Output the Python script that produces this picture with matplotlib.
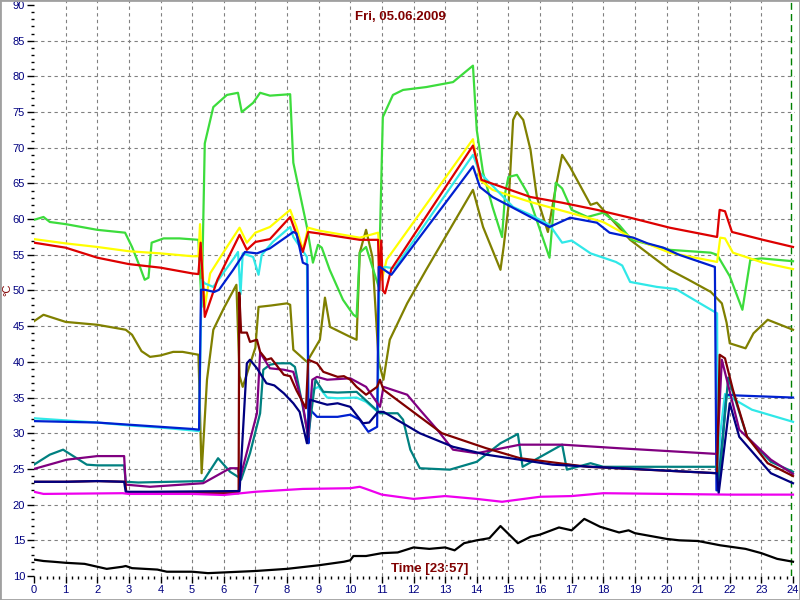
import matplotlib
matplotlib.use('Agg')
import matplotlib.pyplot as plt
from matplotlib.ticker import MultipleLocator
from matplotlib.patches import Rectangle

plt.rcParams['font.family'] = ['Liberation Sans', 'DejaVu Sans']

# outdoor temperature
black_t = [0, 0.3, 0.6, 1, 1.6, 2, 2.3, 2.8, 2.9, 3.1, 3.9, 4.2, 5, 5.5, 6, 7, 8, 9, 9.8, 10.0, 10.1,
           10.5, 11, 11.5, 12, 12.5, 13, 13.3, 13.6, 14, 14.4, 14.75, 15.3, 15.7, 16.0, 16.6, 17.0,
           17.4, 17.9, 18.5, 18.8, 19.0, 19.5, 20.0, 20.4, 21.0, 21.7, 22.5, 23, 23.5, 24]
black_v = [12.3, 12.1, 12.0, 11.85, 11.7, 11.3, 11.0, 11.3, 11.4, 11.1, 10.9, 10.6, 10.6, 10.4, 10.5,
           10.7, 11.0, 11.5, 12.0, 12.2, 12.8, 12.8, 13.2, 13.3, 14.0, 13.8, 14.0, 13.6, 14.6, 15.0,
           15.3, 17.0, 14.6, 15.5, 15.8, 16.8, 16.4, 18.0, 16.9, 16.1, 16.4, 16.0, 15.6, 15.2, 15.0,
           14.9, 14.3, 13.8, 13.2, 12.4, 12.0]

magenta_t = [0, 0.3, 2.8, 3.0, 5.0, 6.0, 7.0, 8.5, 10.0, 10.3, 10.5, 11.0, 12.0, 13.0, 14.0, 14.8,
             16.0, 17.0, 18.0, 20.0, 22.0, 24]
magenta_v = [21.8, 21.5, 21.6, 21.5, 21.5, 21.35, 21.8, 22.2, 22.3, 22.5, 22.2, 21.4, 20.8, 21.2,
             20.8, 20.4, 21.1, 21.2, 21.6, 21.5, 21.4, 21.4]

green_t = [0, 0.3, 0.5, 1, 1.5, 2, 2.88, 3.1, 3.35, 3.5, 3.62, 3.72, 4.1, 4.6, 5.2, 5.3, 5.4, 5.67,
           6.1, 6.45, 6.57, 6.93, 7.15, 7.46, 8.1, 8.2, 8.63, 8.82, 8.98, 9.1, 9.35, 9.77, 10.1, 10.2,
           10.3, 10.5, 10.9, 11.03, 11.35, 11.67, 12.4, 13.25, 13.88, 14.0, 14.2, 14.5, 14.8, 14.9,
           15.0, 15.27, 15.6, 16.0, 16.3, 16.5, 16.7, 17.0, 17.5, 18.0, 18.5, 18.9, 20.1, 21.4, 21.6,
           22.0, 22.4, 22.65, 23.0, 24]
green_v = [59.9, 60.3, 59.6, 59.3, 58.9, 58.5, 58.1, 56.1, 53.3, 51.5, 51.8, 56.7, 57.3, 57.3, 57.1,
           47.7, 70.6, 75.7, 77.4, 77.7, 75.0, 76.3, 77.7, 77.3, 77.5, 67.9, 58.9, 53.9, 56.4, 56.0,
           52.9, 48.7, 46.6, 46.3, 55.3, 56.1, 50.5, 74.3, 77.4, 78.1, 78.5, 79.2, 81.5, 72.5, 66.5,
           61.7, 57.5, 63.7, 65.9, 66.2, 63.7, 58.5, 54.6, 65.1, 64.3, 61.3, 60.3, 60.9, 59.2, 57.1,
           55.7, 55.3, 55.0, 52.0, 47.3, 54.3, 54.5, 54.1]

yellow_t = [0, 1, 2, 3, 4, 5, 5.2, 5.25, 5.3, 5.4, 5.57, 6.1, 6.5, 6.73, 7.0, 7.46, 8.1, 8.3, 8.5,
            8.67, 9.0, 10.3, 10.88, 11.0, 11.15, 13.88, 14.1, 14.5, 15.7, 18.0, 18.85, 20.1, 21.6,
            21.7, 21.85, 22.1, 23.05, 24]
yellow_v = [57.2, 56.6, 56.1, 55.5, 55.2, 54.8, 54.8, 59.3, 55.0, 47.7, 52.4, 56.1, 58.8, 56.7, 58.1,
            58.9, 61.3, 58.9, 55.7, 58.8, 58.4, 57.4, 58.1, 51.5, 54.3, 71.2, 65.5, 64.1, 62.4, 59.6,
            57.5, 55.3, 54.0, 57.4, 57.3, 55.3, 53.9, 53.0]

red_t = [0, 1, 2, 3, 4, 5, 5.2, 5.27, 5.33, 5.4, 5.8, 6.5, 6.73, 7.0, 7.46, 8.1, 8.5, 8.67, 9.0,
         10.3, 10.88, 10.92, 10.98, 11.03, 11.1, 11.3, 13.88, 14.15, 15.7, 16.7, 17.8, 18.85, 20.1,
         21.6, 21.68, 21.85, 22.07, 23.05, 24]
red_v = [56.7, 56.0, 54.6, 53.7, 53.2, 52.4, 52.3, 56.7, 52.0, 46.3, 51.5, 57.8, 55.7, 56.8, 57.2,
         60.3, 55.4, 58.2, 58.0, 57.1, 57.1, 50.0, 57.0, 50.0, 49.6, 53.0, 70.3, 65.5, 63.1, 62.3,
         61.3, 60.2, 58.8, 57.5, 61.3, 61.1, 58.2, 57.1, 56.1]

cyan_t = [0, 1, 2, 3, 4, 5, 5.22, 5.3, 5.4, 5.67, 6.35, 6.45, 6.53, 6.6, 6.93, 7.1, 7.2, 7.55, 8.1,
          8.2, 8.63, 8.68, 8.72, 8.8, 9.0, 9.27, 9.6, 10.2, 10.5, 10.87, 10.92, 11.1, 11.4, 13.88,
          14.1, 15.15, 15.7, 16.3, 16.7, 17.0, 17.6, 18.4, 18.6, 18.85, 19.7, 20.3, 21.06, 21.6,
          21.62, 21.7, 21.85, 22.0, 22.7, 24]
cyan_v = [32.1, 31.8, 31.5, 31.1, 30.8, 30.4, 30.3, 51.5, 51.0, 50.5, 54.7, 55.4, 49.5, 55.2, 54.7,
          52.2, 55.0, 56.8, 58.9, 57.5, 54.7, 29.5, 33.0, 36.1, 36.5, 35.0, 34.9, 35.0, 34.4, 33.0,
          53.0, 53.3, 53.1, 69.0, 66.5, 61.7, 60.6, 59.2, 56.7, 57.0, 55.2, 54.0, 53.5, 51.2, 50.5,
          50.2, 48.2, 46.8, 23.5, 30.0, 35.5, 35.1, 33.3, 31.6]

blue_t = [0, 1, 2, 3, 4, 5, 5.22, 5.28, 5.4, 5.7, 5.85, 6.3, 6.67, 7.05, 7.46, 8.2, 8.3, 8.5, 8.65,
          8.68, 8.73, 8.95, 9.6, 10.0, 10.3, 10.57, 10.85, 10.9, 10.94, 11.3, 13.88, 14.1, 14.5,
          15.7, 16.3, 16.95, 17.8, 18.2, 18.95, 19.4, 19.9, 20.4, 21.53, 21.58, 21.62, 21.9, 22.2, 24]
blue_v = [31.7, 31.6, 31.5, 31.2, 30.9, 30.6, 30.5, 50.1, 50.1, 49.8, 50.1, 52.9, 55.4, 55.2, 55.9,
          58.2, 58.0, 53.9, 53.6, 28.6, 33.3, 32.3, 32.3, 32.6, 31.9, 30.2, 30.9, 53.3, 53.3, 52.2,
          67.4, 64.5, 63.1, 60.3, 58.9, 60.2, 59.5, 58.1, 57.4, 56.6, 56.0, 55.0, 53.3, 22.0, 22.0,
          35.4, 35.3, 35.0]

olive_t = [0, 0.3, 1.0, 2.0, 2.9, 3.1, 3.4, 3.67, 4.0, 4.4, 4.7, 5.2, 5.3, 5.47, 5.67, 6.0, 6.4, 6.5,
           6.6, 7.0, 7.1, 7.5, 8.0, 8.1, 8.2, 8.63, 9.04, 9.2, 9.36, 10.0, 10.2, 10.3, 10.5, 10.7,
           10.9, 11.05, 11.25, 11.8, 12.4, 13.88, 14.2, 14.75, 14.85, 15.0, 15.15, 15.27, 15.47, 15.7,
           15.9, 16.25, 16.5, 16.7, 16.95, 17.6, 17.8, 18.2, 18.85, 20.1, 20.7, 21.4, 21.75, 21.9,
           22.0, 22.5, 22.75, 23.2, 24]
olive_v = [45.7, 46.6, 45.6, 45.2, 44.5, 43.8, 41.5, 40.7, 40.9, 41.4, 41.4, 41.0, 24.4, 37.5, 44.5,
           47.5, 50.8, 38.0, 36.5, 42.0, 47.7, 47.9, 48.2, 48.0, 41.7, 40.0, 43.1, 49.0, 44.9, 43.5,
           43.1, 55.3, 58.5, 54.7, 40.0, 37.5, 43.1, 48.2, 52.9, 64.1, 58.9, 52.9, 56.1, 61.7, 73.9,
           75.0, 73.9, 69.7, 63.1, 58.2, 64.5, 69.0, 67.3, 62.0, 62.3, 60.3, 57.1, 52.9, 51.5, 49.8,
           48.2, 45.5, 42.6, 41.9, 44.0, 45.9, 44.5]

maroon_t = [0, 1, 2, 2.88, 2.92, 4, 5, 6.0, 6.47, 6.49, 6.55, 6.73, 6.83, 7.05, 7.15, 7.35, 7.5, 7.9,
            8.1, 8.3, 8.6, 8.67, 8.95, 9.15, 9.6, 9.8, 10.0, 10.2, 10.5, 10.85, 10.94, 11.05, 12.2,
            12.9, 14.3, 15.37, 17.5, 21.6, 21.68, 21.85, 22.1, 22.55, 23.2, 24]
maroon_v = [23.2, 23.2, 23.3, 23.2, 21.7, 21.6, 21.6, 21.6, 21.6, 49.7, 44.1, 44.1, 42.8, 43.1, 41.4,
            40.3, 40.5, 38.2, 38.0, 36.0, 33.5, 40.3, 39.8, 38.6, 37.9, 38.0, 37.5, 36.5, 35.4, 36.5,
            37.5, 36.1, 32.3, 30.0, 27.9, 26.5, 25.3, 24.4, 41.0, 40.5, 36.1, 29.5, 25.8, 24.0]

teal_t = [0, 0.5, 0.92, 1.35, 1.67, 2.0, 2.85, 2.9, 3.3, 5.35, 5.82, 6.2, 6.45, 6.55, 6.83, 7.15,
          7.25, 7.46, 7.7, 8.1, 8.25, 8.5, 8.67, 8.9, 9.15, 9.6, 10.2, 10.4, 10.94, 11.5, 11.67, 11.9,
          12.2, 13.15, 14.0, 14.75, 15.3, 15.45, 16.7, 16.85, 17.6, 18.0, 21.6, 21.65, 21.95, 22.55,
          23.3, 24]
teal_v = [25.6, 27.0, 27.7, 26.5, 25.6, 25.5, 25.5, 23.2, 23.1, 23.3, 26.5, 24.6, 23.9, 23.5, 27.2,
          32.8, 38.9, 39.6, 39.8, 39.8, 39.3, 33.7, 29.5, 37.5, 35.8, 35.7, 35.8, 35.0, 32.8, 32.8,
          31.9, 27.7, 25.1, 24.9, 26.0, 28.6, 29.9, 25.3, 28.4, 24.9, 25.8, 25.3, 25.3, 22.5, 37.8,
          29.5, 26.0, 24.6]

purple_t = [0, 1.04, 2.0, 2.85, 2.9, 3.67, 5.35, 6.2, 6.45, 6.5, 7.05, 7.15, 7.46, 7.9, 8.2, 8.5,
            8.67, 8.8, 8.95, 9.27, 10.0, 10.5, 10.94, 11.05, 11.8, 12.2, 12.75, 13.25, 14.0, 15.37,
            16.7, 18.5, 21.6, 21.75, 22.3, 23.3, 24]
purple_v = [25.0, 26.3, 26.8, 26.8, 22.8, 22.5, 23.0, 25.1, 25.1, 23.4, 32.8, 41.3, 39.1, 38.9, 38.6,
            34.0, 29.5, 37.5, 37.9, 37.5, 37.7, 36.5, 33.7, 36.5, 35.4, 33.3, 30.5, 27.7, 27.2, 28.4,
            28.4, 27.9, 27.1, 40.3, 30.5, 26.3, 24.3]

navy_t = [0, 1, 2, 2.85, 2.9, 3.67, 6.45, 6.5, 6.73, 6.83, 7.05, 7.35, 7.6, 7.9, 8.2, 8.4, 8.63,
          8.73, 8.95, 9.27, 9.6, 10.0, 10.4, 10.6, 10.88, 11.05, 12.2, 13.25, 14.3, 16.4, 18.5, 21.6,
          21.65, 22.0, 22.3, 23.3, 24]
navy_v = [23.2, 23.2, 23.3, 23.2, 21.8, 21.8, 21.9, 21.9, 39.8, 40.3, 39.1, 37.0, 36.7, 35.6, 34.2,
          33.0, 28.6, 34.7, 34.4, 34.0, 34.2, 33.7, 31.4, 31.5, 33.0, 33.0, 30.0, 28.1, 27.0, 25.6,
          25.1, 24.4, 21.6, 34.2, 29.5, 24.4, 23.0]

series = [
    (olive_t, olive_v, '#808000'),
    (green_t, green_v, '#3cdc3c'),
    (yellow_t, yellow_v, '#ffff00'),
    (cyan_t, cyan_v, '#30e8e8'),
    (red_t, red_v, '#dd0000'),
    (blue_t, blue_v, '#0020d0'),
    (teal_t, teal_v, '#008080'),
    (purple_t, purple_v, '#800080'),
    (maroon_t, maroon_v, '#800000'),
    (navy_t, navy_v, '#000080'),
    (magenta_t, magenta_v, '#ee00ee'),
    (black_t, black_v, '#000000'),
]

fig = plt.figure(figsize=(8, 6), dpi=100)
ax = fig.add_axes([34 / 800, 24 / 600, 761 / 800, 576 / 600])
ax.set_xlim(0, 761 / 31.625)
ax.set_ylim(10, 10 + 576 / 7.1375)

for h in range(1, 24):
    ax.axvline(h, color='#808080', lw=0.8, ls=(0, (3, 3)), zorder=1)
for y in range(15, 90, 5):
    ax.axhline(y, color='#808080', lw=0.8, ls=(0, (3, 3)), zorder=1)
ax.axvline(23.95, color='#008000', lw=1, ls=(0, (5, 3)), zorder=1)

for t, v, c in series:
    ax.plot(t, v, color=c, lw=1.6, zorder=2)

for s in ax.spines.values():
    s.set_visible(False)
ax.set_xticks(range(0, 25))
ax.set_yticks(range(10, 91, 5))
ax.xaxis.set_minor_locator(MultipleLocator(0.2))
ax.yaxis.set_minor_locator(MultipleLocator(1))
ax.tick_params(which='major', direction='out', length=5, width=1, color='black',
               labelcolor='#000080', labelsize=8, pad=1.5)
ax.tick_params(which='minor', direction='out', length=2.5, width=1, color='black')

fig.text(7 / 800, 1 - 290 / 600, '°C', color='#800000', fontsize=8,
         rotation=90, ha='center', va='center')
fig.text(0.5, 1 - 17 / 600, 'Fri, 05.06.2009', color='#800000', fontsize=9.5,
         fontweight='bold', ha='center', va='center')
fig.text(430 / 800, 1 - 569 / 600, 'Time [23:57]', color='#800000', fontsize=9.5,
         fontweight='bold', ha='center', va='center')

fig.patches.append(Rectangle((0, 0), 1, 1, transform=fig.transFigure, fill=False,
                             edgecolor='#a0a0a0', lw=2))

fig.savefig('out.png', dpi=100)
